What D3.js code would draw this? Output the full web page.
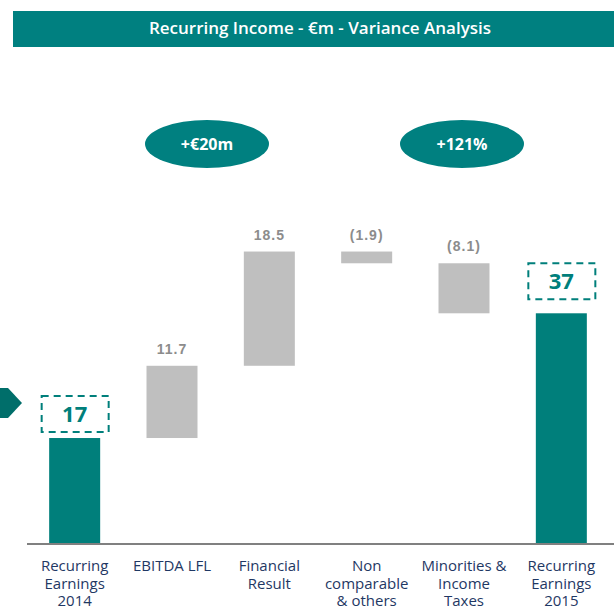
<!DOCTYPE html>
<html>
<head>
<meta charset="utf-8">
<script src="https://cdn.jsdelivr.net/npm/d3@7"></script>
<style>
  body { margin: 0; background: #fff; }
  svg { display: block; }
</style>
</head>
<body>
<div id="chart"></div>
<script>
// waterfall data (€m)
var categories = ["Recurring Earnings 2014", "EBITDA LFL", "Financial Result", "Non comparable & others", "Minorities & Income Taxes", "Recurring Earnings 2015"];
var labelLines = [["Recurring", "Earnings", "2014"], ["EBITDA LFL"], ["Financial", "Result"], ["Non", "comparable", "& others"], ["Minorities &", "Income", "Taxes"], ["Recurring", "Earnings", "2015"]];
var values = [17, 11.7, 18.5, -1.9, -8.1, 37.2];
var kinds = ["total", "delta", "delta", "delta", "delta", "total"];
var valueLabels = ["17", "11.7", "18.5", "(1.9)", "(8.1)", "37"];
var bubbleLabels = ["+€20m", "+121%"];

var title = "Recurring Income - €m - Variance Analysis";

var W = 614, H = 607;
var teal = "#007f7b";

var svg = d3.select("#chart").append("svg")
  .attr("width", W)
  .attr("height", H);

// header band
svg.append("rect")
  .attr("x", 13).attr("y", 11)
  .attr("width", W - 13).attr("height", 36)
  .attr("fill", "#008080");
svg.append("text")
  .attr("x", 320).attr("y", 34)
  .attr("text-anchor", "middle")
  .attr("fill", "#fff")
  .style("font", "600 17px 'Open Sans', sans-serif")
  .text(title);

// build waterfall steps
var running = 0;
var steps = values.map(function(v, i){
  var s;
  if (kinds[i] == "total") {
    s = {lo: 0, hi: v};
    running = v;
  } else {
    s = {lo: Math.min(running, running + v), hi: Math.max(running, running + v)};
    running += v;
  }
  s.cat = categories[i];
  s.kind = kinds[i];
  s.label = valueLabels[i];
  s.lines = labelLines[i];
  return s;
});

var x = d3.scaleBand().domain(categories)
  .range([26, 610])
  .paddingInner(0.476)
  .paddingOuter(0.238);
var y = d3.scaleLinear().domain([0, 40]).range([543, 296]);

// bars
svg.selectAll(".bar")
  .data(steps)
  .enter()
  .append("rect")
  .attr("class", "bar")
  .attr("x", function(d){ return x(d.cat); })
  .attr("y", function(d){ return y(d.hi); })
  .attr("width", x.bandwidth())
  .attr("height", function(d){ return y(d.lo) - y(d.hi); })
  .attr("fill", function(d){ return d.kind == "total" ? teal : "#bfbfbf"; });

// baseline
svg.append("line")
  .attr("x1", 27).attr("x2", W)
  .attr("y1", y(0) + 1).attr("y2", y(0) + 1)
  .attr("stroke", "#808080")
  .attr("stroke-width", 2);

// value labels on the deltas
svg.selectAll(".vlab")
  .data(steps.filter(function(d){ return d.kind == "delta"; }))
  .enter()
  .append("text")
  .attr("class", "vlab")
  .attr("x", function(d){ return x(d.cat) + x.bandwidth() / 2; })
  .attr("y", function(d){ return y(d.hi) - 12; })
  .attr("text-anchor", "middle")
  .attr("fill", "#8c8c8c")
  .style("font", "bold 14px 'Liberation Sans', Arial, sans-serif")
  .style("letter-spacing", "1px")
  .text(function(d){ return d.label; });

// dashed boxes on the totals
var totals = steps.filter(function(d){ return d.kind == "total"; });
var gaps = [6, 14];
totals.forEach(function(d, i){
  var cx = x(d.cat) + x.bandwidth() / 2;
  var bottom = y(d.hi) - gaps[i];
  svg.append("rect")
    .attr("x", cx - 33).attr("y", bottom - 36)
    .attr("width", 67).attr("height", 36)
    .attr("fill", "none")
    .attr("stroke", teal)
    .attr("stroke-width", 2)
    .attr("stroke-dasharray", "7,5");
  svg.append("text")
    .attr("x", cx).attr("y", bottom - 10)
    .attr("text-anchor", "middle")
    .attr("fill", teal)
    .style("font", "bold 22px 'Open Sans', sans-serif")
    .text(d.label);
});

// category labels
var cl = svg.selectAll(".cat")
  .data(steps)
  .enter()
  .append("text")
  .attr("class", "cat")
  .attr("text-anchor", "middle")
  .attr("fill", "#1f3864")
  .style("font", "15px 'Open Sans', sans-serif");
cl.each(function(d){
  var t = d3.select(this);
  d.lines.forEach(function(line, j){
    t.append("tspan")
      .attr("x", x(d.cat) + x.bandwidth() / 2)
      .attr("y", 571 + j * 17.5)
      .text(line);
  });
});

// bubbles
var bubbleX = [207, 462];
bubbleLabels.forEach(function(b, i){
  svg.append("ellipse")
    .attr("cx", bubbleX[i]).attr("cy", 144)
    .attr("rx", 62).attr("ry", 24)
    .attr("fill", "#008080");
  svg.append("text")
    .attr("x", bubbleX[i]).attr("y", 150)
    .attr("text-anchor", "middle")
    .attr("fill", "#fff")
    .style("font", "bold 16px 'Open Sans', sans-serif")
    .text(b);
});

// arrow at left edge
svg.append("polygon")
  .attr("points", "0,388 8,388 22,403 8,418 0,418")
  .attr("fill", "#006e6a");
</script>
</body>
</html>
